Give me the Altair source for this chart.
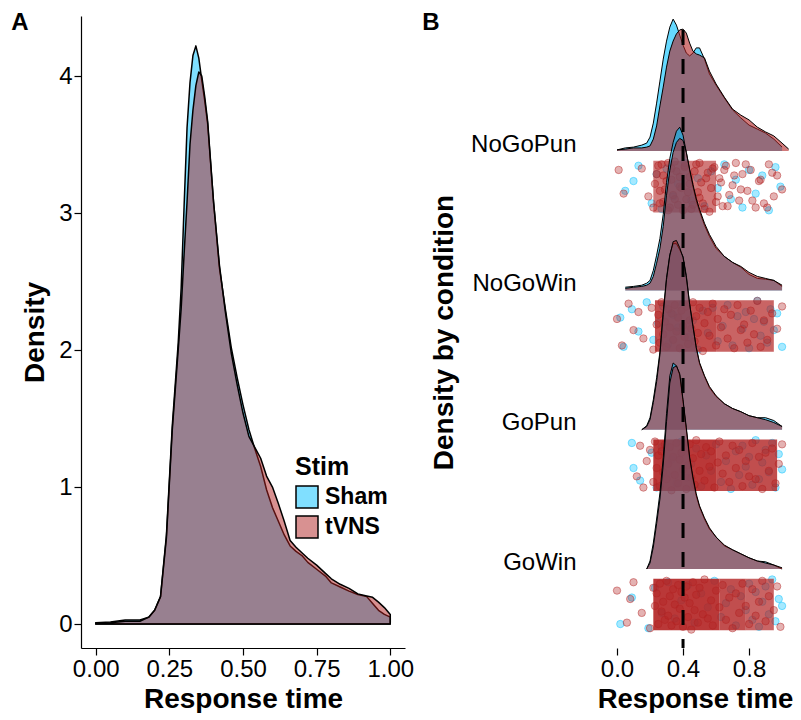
import altair as alt
import pandas as pd

FONT = "Liberation Sans"

# ---------------- Panel A: overall RT density ----------------
STIMS = ["Sham", "tVNS"]
STIM_COLORS = ["#00BFFF", "#B22222"]
LEGEND_COLORS = ["#80DFFF", "#D89191"]   # the two fills at 50 % over white, for the legend keys

A_X = [0.00, 0.05, 0.10, 0.15, 0.18, 0.20, 0.22, 0.24, 0.26, 0.28,
       0.29, 0.30, 0.31, 0.32, 0.33, 0.34, 0.35, 0.36, 0.37, 0.38,
       0.40, 0.42, 0.44, 0.46, 0.48, 0.50, 0.52, 0.54, 0.56, 0.58, 0.60, 0.62, 0.64, 0.66, 0.68, 0.70, 0.72,
       0.75, 0.78, 0.80, 0.83, 0.86, 0.89, 0.92, 0.94, 0.96, 0.98, 1.00]
A_SHAM = [0.01, 0.015, 0.03, 0.03, 0.05, 0.10, 0.20, 0.65, 1.45, 2.05,
          2.45, 3.05, 3.62, 3.95, 4.15, 4.22, 4.13, 3.97, 3.82, 3.65,
          3.08, 2.60, 2.30, 2.02, 1.80, 1.60, 1.42, 1.28, 1.15, 0.98, 0.85, 0.75, 0.65, 0.57, 0.53, 0.50, 0.45,
          0.40, 0.35, 0.30, 0.27, 0.24, 0.215, 0.20, 0.15, 0.10, 0.07, 0.05]
A_TVNS = [0.005, 0.01, 0.02, 0.02, 0.05, 0.10, 0.20, 0.63, 1.42, 2.00,
          2.30, 2.70, 3.08, 3.50, 3.75, 3.93, 4.03, 4.00, 3.85, 3.67,
          3.08, 2.62, 2.28, 1.98, 1.75, 1.54, 1.37, 1.29, 1.21, 1.08, 1.00, 0.88, 0.75, 0.61, 0.56, 0.52, 0.48,
          0.43, 0.37, 0.33, 0.29, 0.26, 0.22, 0.205, 0.195, 0.16, 0.12, 0.07]

# ---------------- Panel B: density by condition ----------------
CONDITIONS = ["GoWin", "GoPun", "NoGoWin", "NoGoPun"]  # rows 1..4, bottom to top
B_X = [0.00, 0.05, 0.10, 0.15, 0.18, 0.20, 0.22, 0.24, 0.26, 0.28, 0.30, 0.32, 0.34, 0.36, 0.38, 0.40,
       0.42, 0.44, 0.46, 0.48, 0.50, 0.53, 0.56, 0.60, 0.65, 0.70, 0.75, 0.80, 0.85, 0.90, 0.95, 1.00, 1.04]
NOGOPUN_SHAM = [0.03, 0.08, 0.10, 0.15, 0.20, 0.35, 0.70, 1.20, 1.75, 2.30, 2.75, 3.10, 3.30, 3.15, 2.90, 2.65,
                2.45, 2.38, 2.45, 2.58, 2.58, 2.30, 1.93, 1.65, 1.33, 1.03, 0.83, 0.65, 0.55, 0.45, 0.30, 0.10, None]
NOGOPUN_TVNS = [0.03, 0.05, 0.08, 0.08, 0.10, 0.13, 0.30, 0.63, 1.13, 1.60, 2.10, 2.50, 2.75, 2.93, 3.03, 3.05,
                2.95, 2.70, 2.50, 2.43, 2.40, 2.33, 2.00, 1.68, 1.35, 1.05, 0.90, 0.78, 0.60, 0.48, 0.38, 0.20, 0.05]
NOGOWIN_SHAM = [None, 0.08, 0.10, 0.13, 0.18, 0.25, 0.50, 0.88, 1.30, 1.90, 2.70, 3.30, 3.70, 3.98, 4.08, 3.88,
                3.45, 3.00, 2.60, 2.25, 1.98, 1.63, 1.35, 1.05, 0.85, 0.70, 0.58, 0.40, 0.30, 0.28, 0.25, 0.10, None]
NOGOWIN_TVNS = [None, 0.05, 0.08, 0.10, 0.13, 0.18, 0.35, 0.68, 1.05, 1.60, 2.38, 3.00, 3.45, 3.70, 3.80, 3.75,
                3.45, 3.03, 2.65, 2.30, 2.03, 1.68, 1.40, 1.10, 0.85, 0.70, 0.60, 0.45, 0.35, 0.30, 0.25, 0.13, None]
GOPUN_SHAM = [None, None, None, 0.0, 0.10, 0.30, 0.75, 1.30, 1.95, 2.95, 3.80, 4.38, 4.65, 4.65, 4.50, 4.33,
              3.85, 3.15, 2.60, 2.05, 1.65, 1.33, 1.05, 0.83, 0.65, 0.53, 0.45, 0.35, 0.30, 0.30, 0.23, 0.08, None]
GOPUN_TVNS = [None, None, None, 0.0, 0.08, 0.25, 0.68, 1.20, 1.88, 2.88, 3.75, 4.35, 4.70, 4.73, 4.55, 4.30,
              3.80, 3.13, 2.58, 2.05, 1.68, 1.35, 1.08, 0.85, 0.65, 0.53, 0.45, 0.35, 0.30, 0.25, 0.18, 0.08, None]
GOWIN_SHAM = [None, None, None, None, 0.0, 0.20, 0.65, 1.25, 1.90, 2.78, 3.88, 4.83, 5.15, 5.08, 4.85, 4.18,
              3.48, 2.75, 2.25, 1.83, 1.55, 1.25, 1.00, 0.80, 0.58, 0.48, 0.38, 0.28, 0.20, 0.18, 0.10, 0.0, None]
GOWIN_TVNS = [None, None, None, None, 0.0, 0.15, 0.55, 1.13, 1.75, 2.60, 3.68, 4.65, 5.03, 5.08, 4.88, 4.23,
              3.53, 2.80, 2.30, 1.88, 1.58, 1.28, 1.03, 0.80, 0.60, 0.48, 0.38, 0.28, 0.20, 0.15, 0.10, 0.03, None]

# jittered raw response times (x) and vertical jitter (j, in row units)
NOGOPUN_TVNS_X = [0.01, 0.04, 0.15, 0.19, 0.23, 0.25, 0.26, 0.28, 0.29, 0.31, 0.32, 0.33, 0.35, 0.36, 0.38,
                  0.40, 0.41, 0.43, 0.44, 0.46, 0.48, 0.50, 0.51, 0.53, 0.55, 0.57, 0.58, 0.60, 0.62, 0.64,
                  0.66, 0.68, 0.70, 0.72, 0.74, 0.76, 0.79, 0.81, 0.84, 0.86, 0.89, 0.92, 0.95, 0.97, 1.00,
                  0.22, 0.24, 0.26, 0.27, 0.28, 0.30, 0.31, 0.33, 0.34, 0.35, 0.37, 0.38, 0.39, 0.41, 0.42,
                  0.44, 0.45, 0.47, 0.49, 0.50, 0.52, 0.54, 0.56, 0.59, 0.61, 0.63, 0.65, 0.67, 0.71, 0.75,
                  0.78, 0.82, 0.87, 0.91, 0.94]
NOGOPUN_TVNS_J = [0.12, -0.05, 0.13, -0.07, 0.02, 0.15, -0.12, 0.08, -0.02, 0.17, -0.15, 0.05, -0.09, 0.11, 0.00,
                  -0.17, 0.14, -0.04, 0.07, -0.13, 0.16, -0.08, 0.03, -0.16, 0.10, -0.01, 0.13, -0.11, 0.06, -0.14,
                  0.15, -0.06, 0.01, 0.17, -0.10, 0.09, -0.03, 0.12, -0.15, 0.04, -0.12, 0.16, -0.07, 0.08, -0.02,
                  -0.15, 0.09, -0.03, 0.16, -0.11, 0.04, -0.17, 0.13, -0.06, 0.18, -0.13, 0.07, -0.01, 0.15, -0.09,
                  0.02, -0.16, 0.11, -0.04, 0.17, -0.12, 0.06, -0.18, 0.14, -0.07, 0.03, 0.12, -0.14, 0.08, -0.02,
                  0.16, -0.10, 0.05, -0.15, 0.10]
NOGOPUN_SHAM_X = [0.05, 0.10, 0.13, 0.21, 0.24, 0.27, 0.30, 0.34, 0.37, 0.41, 0.45, 0.49, 0.53, 0.57, 0.61,
                  0.65, 0.69, 0.72, 0.76, 0.80, 0.84, 0.88, 0.92, 0.96, 0.99]
NOGOPUN_SHAM_J = [-0.03, 0.04, 0.15, -0.12, 0.09, -0.16, 0.13, -0.07, 0.02, 0.17, -0.10, 0.06, -0.14, 0.11, -0.01,
                  0.16, -0.09, 0.05, -0.15, 0.12, -0.05, 0.08, -0.17, 0.14, 0.00]
NOGOWIN_TVNS_X = [0.00, 0.03, 0.07, 0.10, 0.13, 0.16, 0.21, 0.22, 0.24, 0.25, 0.26, 0.27, 0.28, 0.29, 0.30,
                  0.31, 0.32, 0.33, 0.34, 0.35, 0.36, 0.37, 0.38, 0.39, 0.40, 0.41, 0.42, 0.43, 0.44, 0.45,
                  0.46, 0.47, 0.48, 0.49, 0.50, 0.52, 0.53, 0.55, 0.56, 0.58, 0.60, 0.61, 0.63, 0.65, 0.67,
                  0.69, 0.71, 0.73, 0.75, 0.77, 0.79, 0.81, 0.83, 0.85, 0.87, 0.89, 0.91, 0.94, 0.97, 1.00]
NOGOWIN_TVNS_J = [0.05, -0.14, 0.16, -0.03, 0.10, -0.09, 0.13, -0.17, 0.01, 0.08, -0.12, 0.17, -0.06, 0.03, -0.15,
                  0.12, -0.01, 0.09, -0.10, 0.15, -0.04, 0.06, -0.16, 0.11, 0.00, -0.08, 0.14, -0.13, 0.04, -0.02,
                  0.17, -0.11, 0.07, -0.05, 0.13, -0.18, 0.02, 0.10, -0.07, 0.16, -0.14, 0.05, -0.01, 0.12, -0.09,
                  0.08, -0.16, 0.15, -0.03, 0.01, -0.12, 0.11, -0.06, 0.18, -0.15, 0.04, -0.10, 0.09, -0.02, 0.14]
NOGOWIN_SHAM_X = [0.02, 0.04, 0.09, 0.13, 0.18, 0.22, 0.25, 0.28, 0.31, 0.34, 0.37, 0.40, 0.43, 0.46, 0.49,
                  0.52, 0.55, 0.58, 0.61, 0.64, 0.67, 0.70, 0.73, 0.76, 0.78, 0.80, 0.83, 0.85, 0.87, 0.89,
                  0.91, 0.93, 0.95, 0.97, 1.00]
NOGOWIN_SHAM_J = [0.06, -0.15, 0.12, -0.04, 0.17, -0.10, 0.02, 0.14, -0.13, 0.08, -0.01, 0.16, -0.08, 0.04, -0.17,
                  0.11, -0.05, 0.13, -0.11, 0.00, 0.15, -0.14, 0.07, -0.02, 0.10, -0.16, 0.05, 0.18, -0.07, 0.03,
                  -0.12, 0.12, -0.03, 0.09, -0.15]
GOPUN_TVNS_X = [0.12, 0.14, 0.16, 0.18, 0.20, 0.22, 0.23, 0.24, 0.25, 0.26, 0.27, 0.28, 0.29, 0.30, 0.31,
                0.32, 0.33, 0.34, 0.35, 0.36, 0.37, 0.38, 0.39, 0.40, 0.41, 0.42, 0.43, 0.44, 0.45, 0.46,
                0.47, 0.48, 0.50, 0.51, 0.53, 0.54, 0.56, 0.57, 0.59, 0.61, 0.62, 0.64, 0.66, 0.68, 0.70,
                0.72, 0.74, 0.76, 0.78, 0.80, 0.82, 0.84, 0.86, 0.88, 0.90, 0.92, 0.94, 0.96, 0.98, 1.00]
GOPUN_TVNS_J = [-0.08, 0.14, -0.16, 0.03, 0.11, -0.12, 0.17, -0.02, 0.07, -0.15, 0.10, -0.05, 0.15, -0.10, 0.01,
                0.13, -0.18, 0.06, -0.07, 0.16, -0.13, 0.04, 0.09, -0.03, 0.12, -0.17, 0.00, 0.15, -0.09, 0.05,
                -0.14, 0.18, -0.04, 0.08, -0.11, 0.13, -0.01, 0.10, -0.16, 0.02, 0.17, -0.06, 0.07, -0.12, 0.14,
                -0.02, 0.11, -0.15, 0.03, -0.08, 0.16, -0.10, 0.06, -0.17, 0.09, -0.04, 0.12, -0.13, 0.01, 0.15]
GOPUN_SHAM_X = [0.09, 0.10, 0.14, 0.21, 0.24, 0.27, 0.30, 0.33, 0.36, 0.39, 0.42, 0.45, 0.48, 0.51, 0.54,
                0.57, 0.60, 0.63, 0.66, 0.69, 0.72, 0.74, 0.76, 0.78, 0.80, 0.82, 0.84, 0.86, 0.88, 0.90,
                0.92, 0.94, 0.96, 0.98, 1.00]
GOPUN_SHAM_J = [0.16, -0.02, -0.11, 0.09, -0.16, 0.13, -0.06, 0.04, -0.13, 0.17, -0.09, 0.01, 0.12, -0.15, 0.07,
                -0.04, 0.15, -0.12, 0.03, -0.17, 0.10, -0.07, 0.14, -0.01, 0.06, -0.14, 0.18, -0.10, 0.02, 0.11,
                -0.05, 0.16, -0.16, 0.08, -0.03]
GOWIN_TVNS_X = [0.00, 0.06, 0.08, 0.10, 0.15, 0.20, 0.22, 0.23, 0.24, 0.25, 0.26, 0.27, 0.28, 0.29, 0.30,
                0.31, 0.32, 0.33, 0.34, 0.35, 0.36, 0.37, 0.38, 0.39, 0.40, 0.41, 0.42, 0.43, 0.44, 0.45,
                0.46, 0.47, 0.48, 0.49, 0.50, 0.52, 0.53, 0.55, 0.57, 0.58, 0.60, 0.62, 0.64, 0.66, 0.68,
                0.70, 0.72, 0.74, 0.76, 0.78, 0.80, 0.82, 0.84, 0.86, 0.88, 0.90, 0.92, 0.95, 0.97, 0.99]
GOWIN_TVNS_J = [0.10, -0.13, 0.04, 0.16, -0.06, -0.17, 0.12, -0.01, 0.08, -0.14, 0.15, -0.05, 0.02, -0.11, 0.17,
                -0.08, 0.06, -0.15, 0.11, 0.00, -0.12, 0.14, -0.03, 0.09, -0.16, 0.05, 0.13, -0.09, 0.01, -0.18,
                0.16, -0.04, 0.07, -0.13, 0.12, -0.07, 0.18, -0.10, 0.03, -0.15, 0.10, -0.02, 0.14, -0.11, 0.05,
                -0.17, 0.08, -0.06, 0.15, -0.01, -0.14, 0.11, -0.08, 0.02, 0.17, -0.12, 0.06, -0.04, 0.13, -0.16]
GOWIN_SHAM_X = [0.02, 0.09, 0.19, 0.23, 0.27, 0.31, 0.35, 0.39, 0.43, 0.47, 0.51, 0.55, 0.59, 0.63, 0.66,
                0.69, 0.72, 0.75, 0.78, 0.80, 0.82, 0.84, 0.86, 0.88, 0.90, 0.92, 0.94, 0.96, 0.98, 1.00]
GOWIN_SHAM_J = [-0.14, 0.05, -0.17, 0.12, -0.06, 0.16, -0.10, 0.03, 0.14, -0.13, 0.08, -0.02, 0.17, -0.09, 0.01,
                0.11, -0.15, 0.06, -0.04, 0.15, -0.11, 0.09, -0.16, 0.02, 0.13, -0.07, 0.18, -0.12, 0.04, -0.01]

# saturated cores of the point clouds (where thousands of points overlap)
CORE_COND = ["NoGoPun", "NoGoWin", "NoGoWin", "GoPun", "GoPun", "GoWin", "GoWin", "GoWin"]
CORE_LO = [0.22, 0.23, 0.60, 0.22, 0.60, 0.22, 0.62, 0.78]
CORE_HI = [0.60, 0.60, 0.95, 0.60, 0.97, 0.62, 0.78, 0.95]
CORE_LEVEL = ["faint", "medium", "light", "dense", "medium", "dense", "medium", "light"]

RT_LINE = 0.4

# ---------------- layout / style constants ----------------
RIDGE_SCALE = 0.2872   # rows per density unit
BAND_OFFSET = 0.255    # centre of the point band below each baseline (rows)
BAND_HALF = 0.185
ROW = {c: i + 1 for i, c in enumerate(CONDITIONS)}
COLOR_OF = dict(zip(STIMS, STIM_COLORS))
PLOT_H = 632

# ================= Panel A =================
assert len(A_X) == len(A_SHAM) == len(A_TVNS)
dfA = {
    "Sham": pd.DataFrame({"x": A_X, "density": A_SHAM, "Stim": "Sham"}),
    "tVNS": pd.DataFrame({"x": A_X, "density": A_TVNS, "Stim": "tVNS"}),
}
xA = alt.X("x:Q", scale=alt.Scale(domain=[-0.05, 1.05], nice=False, zero=False),
           axis=alt.Axis(values=[0, 0.25, 0.5, 0.75, 1.0], format=".2f", title="Response time",
                         titleY=59, titleBaseline="alphabetic", labelPadding=2))
yA = alt.Y("density:Q", stack=None, scale=alt.Scale(domain=[-0.175, 4.438], nice=False, zero=False),
           axis=alt.Axis(values=[0, 1, 2, 3, 4], format="d", title="Density",
                         titleX=-38, titleBaseline="alphabetic", labelPadding=2))

layersA = []
for s in STIMS:
    layersA.append(
        alt.Chart(dfA[s]).mark_area(fill=COLOR_OF[s], fillOpacity=0.5, stroke="black",
                                    strokeWidth=1.5, strokeJoin="round")
        .encode(x=xA, y=yA)
    )
# legend keys (invisible marks, legend only)
legendA = alt.Legend(title="Stim", orient="none", legendX=214, legendY=439, symbolOpacity=1)
layersA.append(
    alt.Chart(pd.DataFrame({"Stim": STIMS, "x": [0.5, 0.5], "density": [0.0, 0.0]}))
    .mark_square(opacity=0, size=1)
    .encode(x=xA, y=yA,
            color=alt.Color("Stim:N", scale=alt.Scale(domain=STIMS, range=LEGEND_COLORS), legend=legendA))
)
layersA.append(
    alt.Chart(pd.DataFrame({"t": ["A"]})).mark_text(font=FONT, fontSize=24, fontWeight="bold",
                                                    align="center", baseline="middle", color="black")
    .encode(text="t:N", x=alt.value(-61), y=alt.value(7))
)
chartA = alt.layer(*layersA).properties(width=324, height=PLOT_H)

# ================= Panel B =================
ridges = {
    ("NoGoPun", "Sham"): NOGOPUN_SHAM, ("NoGoPun", "tVNS"): NOGOPUN_TVNS,
    ("NoGoWin", "Sham"): NOGOWIN_SHAM, ("NoGoWin", "tVNS"): NOGOWIN_TVNS,
    ("GoPun", "Sham"): GOPUN_SHAM, ("GoPun", "tVNS"): GOPUN_TVNS,
    ("GoWin", "Sham"): GOWIN_SHAM, ("GoWin", "tVNS"): GOWIN_TVNS,
}
points = {
    ("NoGoPun", "Sham"): (NOGOPUN_SHAM_X, NOGOPUN_SHAM_J), ("NoGoPun", "tVNS"): (NOGOPUN_TVNS_X, NOGOPUN_TVNS_J),
    ("NoGoWin", "Sham"): (NOGOWIN_SHAM_X, NOGOWIN_SHAM_J), ("NoGoWin", "tVNS"): (NOGOWIN_TVNS_X, NOGOWIN_TVNS_J),
    ("GoPun", "Sham"): (GOPUN_SHAM_X, GOPUN_SHAM_J), ("GoPun", "tVNS"): (GOPUN_TVNS_X, GOPUN_TVNS_J),
    ("GoWin", "Sham"): (GOWIN_SHAM_X, GOWIN_SHAM_J), ("GoWin", "tVNS"): (GOWIN_TVNS_X, GOWIN_TVNS_J),
}

xscaleB = alt.Scale(domain=[-0.0606, 1.048], nice=False, zero=False)
yscaleB = alt.Scale(domain=[0.433, 4.97], nice=False, zero=False)
xaxisB = alt.Axis(values=[0, 0.4, 0.8], format=".1f", title="Response time", domain=False,
                  titleY=59, titleX=88, titleBaseline="alphabetic", titleFontSize=27.5, labelPadding=2)
label_expr = "[''," + ",".join("'%s'" % c for c in CONDITIONS) + "][datum.value]"
yaxisB = alt.Axis(values=[1, 2, 3, 4], labelExpr=label_expr, domain=False, ticks=False,
                  labelPadding=31, labelBaseline="alphabetic", title="Density by condition",
                  titleX=-155, titleBaseline="alphabetic")

def bx(field):
    return alt.X(field, scale=xscaleB, axis=xaxisB)

def by(field):
    return alt.Y(field, scale=yscaleB, axis=yaxisB)

# points
pt_frames = {}
for s in STIMS:
    rows = []
    for c in CONDITIONS:
        xs, js = points[(c, s)]
        assert len(xs) == len(js), (c, s)
        for xv, jv in zip(xs, js):
            rows.append({"x": xv, "py": ROW[c] - BAND_OFFSET + jv, "cond": c})
    pt_frames[s] = pd.DataFrame(rows)

core = pd.DataFrame({"cond": CORE_COND, "lo": CORE_LO, "hi": CORE_HI, "level": CORE_LEVEL})
core["ylo"] = core["cond"].map(ROW) - BAND_OFFSET - BAND_HALF
core["yhi"] = core["cond"].map(ROW) - BAND_OFFSET + BAND_HALF

def point_layer(s):
    return (alt.Chart(pt_frames[s])
            .mark_circle(size=55, color=COLOR_OF[s], fillOpacity=0.35, stroke=COLOR_OF[s],
                         strokeWidth=1, strokeOpacity=0.45)
            .encode(x=bx("x:Q"), y=by("py:Q")))

layersB = [point_layer("Sham")]
layersB.append(
    alt.Chart(core).mark_rect(color=COLOR_OF["tVNS"])
    .encode(x=bx("lo:Q"), x2="hi:Q", y=by("ylo:Q"), y2="yhi:Q",
            opacity=alt.Opacity("level:N",
                                scale=alt.Scale(domain=["dense", "medium", "light", "faint"],
                                                range=[0.9, 0.6, 0.35, 0.22]), legend=None))
)
layersB.append(point_layer("tVNS"))

for c in reversed(CONDITIONS):
    for s in STIMS:
        vals = ridges[(c, s)]
        assert len(vals) == len(B_X), (c, s)
        d = pd.DataFrame({"x": B_X, "dens": vals})
        d["dens"] = pd.to_numeric(d["dens"])
        d["base"] = float(ROW[c])
        d["top"] = d["base"] + d["dens"] * RIDGE_SCALE
        d = d.dropna()
        layersB.append(
            alt.Chart(d).mark_area(fill=COLOR_OF[s], fillOpacity=0.6, strokeWidth=0)
            .encode(x=bx("x:Q"), y=by("top:Q"), y2="base:Q")
        )
        layersB.append(
            alt.Chart(d).mark_line(color="black", strokeWidth=1)
            .encode(x=bx("x:Q"), y=by("top:Q"))
        )

layersB.append(
    alt.Chart(pd.DataFrame({"x": [RT_LINE]})).mark_rule(color="black", strokeWidth=3, strokeDash=[15, 14])
    .encode(x=bx("x:Q"), y=alt.value(14), y2=alt.value(PLOT_H))
)
layersB.append(
    alt.Chart(pd.DataFrame({"t": ["B"]})).mark_text(font=FONT, fontSize=24, fontWeight="bold",
                                                    align="center", baseline="middle", color="black")
    .encode(text="t:N", x=alt.value(-176), y=alt.value(7))
)
chartB = alt.layer(*layersB).properties(width=183, height=PLOT_H)

chart = (
    alt.hconcat(chartA, chartB, spacing=8)
    .properties(padding={"left": 3, "top": 3, "right": 0, "bottom": 0})
    .configure_view(stroke=None)
    .configure_axis(labelFont=FONT, labelFontSize=24, labelColor="black",
                    titleFont=FONT, titleFontSize=28, titleFontWeight="bold", titleColor="black",
                    domainColor="black", tickColor="black", domainWidth=1.2, tickWidth=1.2,
                    tickSize=7, grid=False)
    .configure_legend(titleFont=FONT, titleFontSize=25, titleFontWeight="bold", titleColor="black",
                      labelFont=FONT, labelFontSize=23, labelFontWeight="bold", labelColor="black",
                      symbolType="square", symbolSize=484, symbolStrokeColor="black",
                      symbolStrokeWidth=1.5, padding=0, rowPadding=2, labelOffset=6, titlePadding=5)
)

chart.save("out.html", embed_options={"renderer": "svg", "actions": False})
